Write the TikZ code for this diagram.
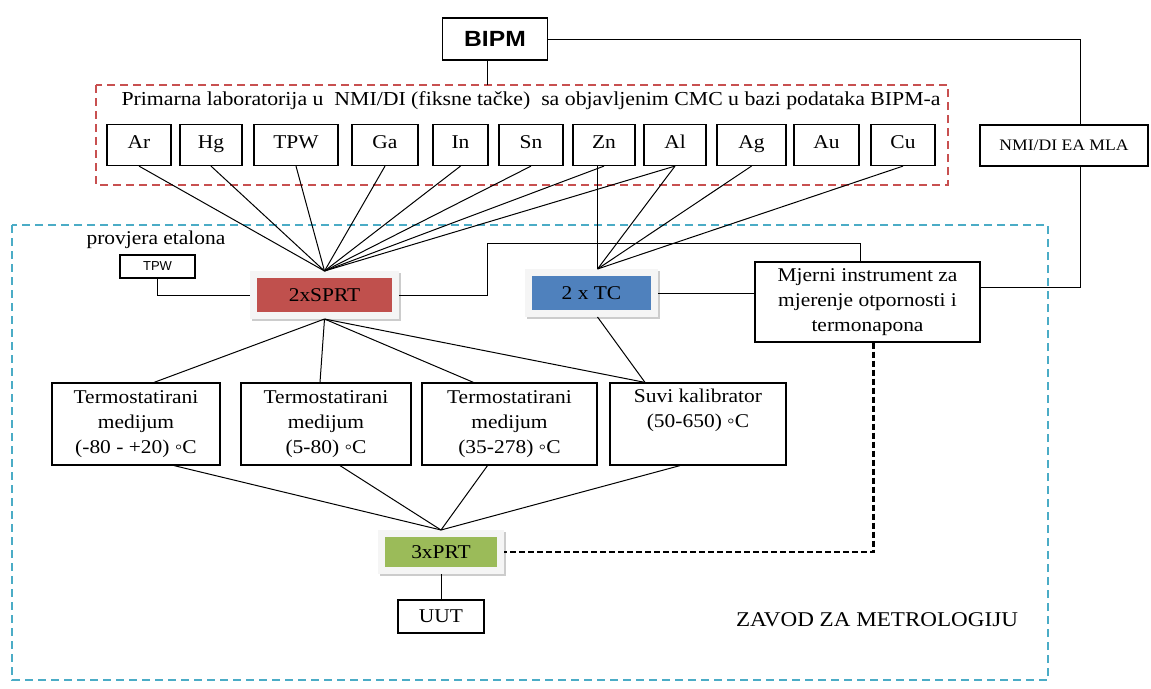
\documentclass[tikz,border=0pt]{standalone}
\usepackage{fontspec}
\setmainfont{Liberation Serif}[FakeStretch=1.1]
\newfontfamily\bipmfont{Liberation Sans}[FakeStretch=1.12]
\newfontfamily\smallsans{Liberation Sans}
\usetikzlibrary{positioning}
\definecolor{sprtred}{RGB}{192,80,77}
\definecolor{tcblue}{RGB}{79,129,189}
\definecolor{prtgreen}{RGB}{155,187,89}
\definecolor{labred}{RGB}{200,80,80}
\definecolor{zavodblue}{RGB}{75,172,198}

\begin{document}
\begin{tikzpicture}[x=1pt,y=-1pt,
	every node/.style={font=\fontsize{19.5}{25}\selectfont},
	box/.style={rectangle,draw=black,line width=1.2pt,align=center,inner sep=2pt},
	elem/.style={box,minimum height=41pt,text height=1.8ex,text depth=0.4ex},
	colbox/.style={rectangle,fill=#1,draw=gray!8,line width=7pt,
		preaction={draw=gray!40,line width=7pt,transform canvas={xshift=1.5pt,yshift=-1.5pt}}},
	link/.style={draw=black,line width=1pt},
	frame/.style={line width=2pt,dash pattern=on 8pt off 5pt}]
	
	\useasboundingbox (0,0) rectangle (1151,688);
	
	% okviri
	\draw[frame,labred] (96,85) rectangle (948,185);
	\draw[frame,zavodblue] (12,225) rectangle (1048,680);
	
	\node[box,minimum width=105pt,minimum height=42pt,font=\bipmfont\bfseries\fontsize{22}{26}\selectfont] (bipm) at (495,39) {BIPM};
	\node[font=\fontsize{19.8}{25}\selectfont] (lab) at (531,101) {Primarna laboratorija u\ \ NMI/DI (fiksne tačke)\ \ sa objavljenim CMC u bazi podataka BIPM-a};
	\coordinate (labtop) at (487,85);
	
	% fiksne tacke
	\foreach \n/\x/\w in {Ar/139/64,Hg/211/62,TPW/296/84,Ga/385/66,In/460.5/55,Sn/531/64,Zn/604/62,Al/675/62,Ag/751.5/69,Au/826.5/65,Cu/903/64}
		\node[elem,minimum width=\w pt] (\n) at (\x,145) {\n};
	
	\node[box,minimum width=168pt,minimum height=41pt,font=\fontsize{16}{18}\selectfont] (nmi) at (1064,145.5) {NMI/DI EA MLA};
	
	\node (provjera) at (156,240) {provjera etalona};
	\node[box,minimum width=75pt,minimum height=23pt,font=\smallsans\fontsize{13}{15}\selectfont] (tpwchk) at (157.5,266.5) {TPW};
	
	\node[colbox=sprtred,minimum width=142pt,minimum height=41pt] (sprt) at (324.5,295) {2xSPRT};
	\node[colbox=tcblue,minimum width=126pt,minimum height=41pt] (tc) at (591.5,293) {2 x TC};
	\coordinate (tctop) at ([xshift=6pt]tc.north);
	\node[box,minimum width=225pt,minimum height=80pt] (mjerni) at (867.5,302) {Mjerni instrument za\\mjerenje otpornosti i\\termonapona};
	
	\node[box,minimum width=168pt,minimum height=82pt] (t1) at (136,424) {Termostatirani\\medijum\\(-80 - +20) ◦C};
	\node[box,minimum width=170pt,minimum height=82pt] (t2) at (326,424) {Termostatirani\\medijum\\(5-80) ◦C};
	\node[box,minimum width=175pt,minimum height=82pt] (t3) at (509.5,424) {Termostatirani\\medijum\\(35-278) ◦C};
	\node[box,minimum width=176pt,minimum height=82pt] (suvi) at (698,424) {Suvi kalibrator\\(50-650) ◦C\\\strut};
	
	\node[colbox=prtgreen,minimum width=119pt,minimum height=37pt] (prt) at (441,552) {3xPRT};
	\node[box,minimum width=86pt,minimum height=33pt] (uut) at (441,616.5) {UUT};
	\node[font=\fontsize{21}{25}\selectfont] (zavod) at (877,620) {ZAVOD ZA METROLOGIJU};
	
	% veze
	\draw[link] (bipm.south -| labtop) -- (labtop);
	\draw[link] (bipm.east) -| ([xshift=16pt]nmi.north);
	\draw[link] ([xshift=16pt]nmi.south) |- ([yshift=15pt]mjerni.east);
	\foreach \n in {Ar,Hg,TPW,Ga,In,Sn,Zn,Al}
		\draw[link] (\n.south) -- (sprt.north);
	\draw[link] (tctop) -- (tctop |- Zn.south);
	\foreach \n in {Al,Ag,Cu}
		\draw[link] (\n.south) -- (tctop);
	\draw[link] (tpwchk.south) |- (sprt.west);
	\coordinate (bend) at (487,243);
	\draw[link] (sprt.east) -| (bend) -| ([xshift=-7pt]mjerni.north);
	\draw[link] (tc.east) -- (tc.east -| mjerni.west);
	\foreach \n/\s in {t1/18,t2/-6,t3/-36,suvi/-53}
		\draw[link] (sprt.south) -- ([xshift=\s pt]\n.north);
	\draw[link] ([xshift=6pt]tc.south) -- ([xshift=-53pt]suvi.north);
	\foreach \n/\s in {t1/38,t2/14,t3/-22,suvi/-18}
		\draw[link] ([xshift=\s pt]\n.south) -- (prt.north);
	\draw[link] (prt.south) -- (uut.north);
	\draw[line width=2.2pt,dash pattern=on 6pt off 3pt] ([xshift=6pt]mjerni.south) |- (prt.east);
	
\end{tikzpicture}
\end{document}
